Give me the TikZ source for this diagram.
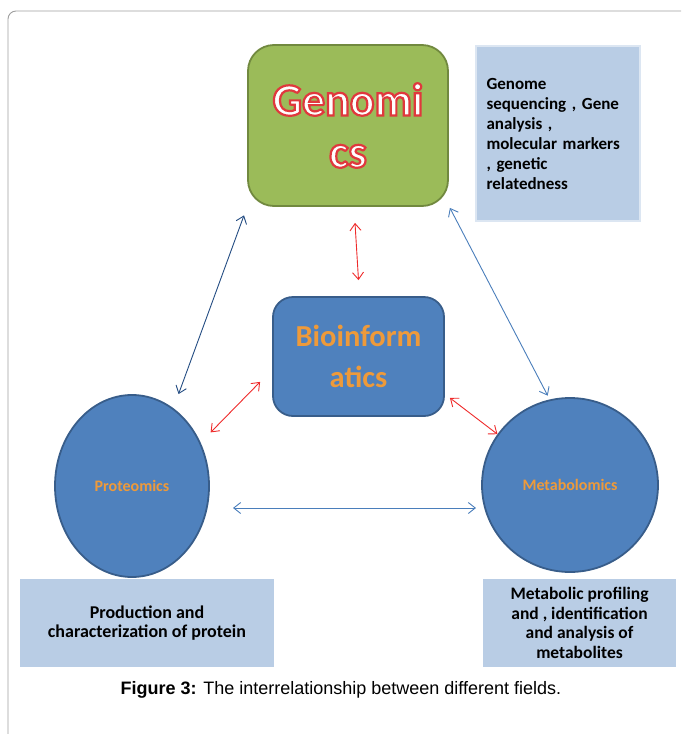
\documentclass[tikz,border=0pt]{standalone}
\usepackage{fontspec}
\setmainfont{Carlito}
\newfontfamily\capfont{Liberation Sans}
\usepackage{tikz}
\usetikzlibrary{arrows.meta,positioning,shapes.geometric}
\definecolor{cgen}{HTML}{9BBB59}
\definecolor{cgenbd}{HTML}{71893F}
\definecolor{cbio}{HTML}{4F81BD}
\definecolor{cbiobd}{HTML}{385D8A}
\definecolor{cinfo}{HTML}{B9CDE5}
\definecolor{cinfobd}{HTML}{DCE6F2}
\definecolor{corg}{HTML}{EE9A3A}
\definecolor{cnavy}{HTML}{234C82}
\definecolor{cblue}{HTML}{4A7EBB}
\definecolor{cred}{HTML}{EE2A2A}
\tikzset{
  field/.style={draw,line width=1.8pt,align=center,inner sep=0pt},
  gbox/.style={field,draw=cgenbd,fill=cgen,rounded corners=26pt},
  bbox/.style={field,draw=cbiobd,fill=cbio,rounded corners=20pt},
  oval/.style={field,ellipse,draw=cbiobd,fill=cbio},
  info/.style={fill=cinfo,inner sep=0pt,font=\fontsize{17}{20}\selectfont\bfseries},
  link/.style={{Straight Barb[length=7pt,width=11pt]}-{Straight Barb[length=7pt,width=11pt]},line width=0.9pt},
}
% white letters with a red outline (fill and stroke)
\newcommand{\gentxt}[1]{\textcolor{white}{\special{pdf:literal direct 2 Tr 2.2 w 0.88 0.22 0.24 RG}#1\special{pdf:literal direct 0 Tr}}}

\begin{document}
\begin{tikzpicture}[
  x=1pt, y=-1pt,
  frame/.style={draw=black!38, line width=0.9pt, rounded corners=8pt},
  ftxt/.style={font=\fontsize{16}{18}\selectfont\bfseries, text=corg},
]
\useasboundingbox (0,0) rectangle (681,734);

% ================= frame =================
\draw[frame] (8,734) |- (681,11);

% ================= fields =================
\node[gbox, minimum width=200pt, minimum height=161pt,
      font=\fontsize{46}{52}\selectfont\bfseries] (gen) at (348,125.5)
  {\gentxt{Genomi}\\\gentxt{cs}};
\node[bbox, minimum width=171pt, minimum height=119pt,
      font=\fontsize{30.5}{41}\selectfont\bfseries, text=corg] (bio) at (358.5,356.5)
  {Bioinform\\atics};
\node[oval, minimum width=154pt, minimum height=182pt, ftxt] (prot) at (132,486) {Proteomics};
\node[oval, minimum width=176pt, minimum height=174pt, ftxt] (met) at (570,485) {Metabolomics};

% ================= descriptions =================
\node[info, draw=cinfobd, line width=2pt, minimum width=164pt, minimum height=175pt,
      text width=143pt, align=left] (geninfo) at (558,133.5)
  {Genome\\sequencing , Gene\\analysis ,\\molecular markers\\, genetic\\relatedness};
\node[info, minimum width=254pt, minimum height=88pt, align=center,
      font=\fontsize{18}{19.5}\selectfont\bfseries] (protinfo) at (147,623)
  {Production and\\characterization of protein};
\node[info, minimum width=193pt, minimum height=88pt, align=center,
      font=\fontsize{17.5}{19.5}\selectfont\bfseries] (metinfo) at (579.5,623)
  {Metabolic profiling\\and , identification\\and analysis of\\metabolites};

% ================= links =================
\draw[link, cnavy, shorten <=15pt, shorten >=9pt] (prot.62) -- (gen.south west);
\draw[link, cblue] ([shift={(1,1)}]gen.south east) -- ([shift={(-1,-4)}]met.104);
\draw[link, cred] ([shift={(7,16)}]gen.south) -- ([shift={(0,-16)}]bio.north);
\draw[link, cred] ([shift={(11,-8)}]prot.34) -- ([shift={(-12,-35)}]bio.south west);
\draw[link, cred] ([shift={(5,-19)}]bio.south east) -- (met.145);
\draw[link, cblue] ([shift={(101,22)}]prot.center) -- ([shift={(-94,23)}]met.center);

% ================= caption =================
\node[font=\capfont\fontsize{18}{20}\selectfont] (cap) at (341,690)
  {\textbf{Figure 3:} The interrelationship between different fields.};
\end{tikzpicture}
\end{document}
